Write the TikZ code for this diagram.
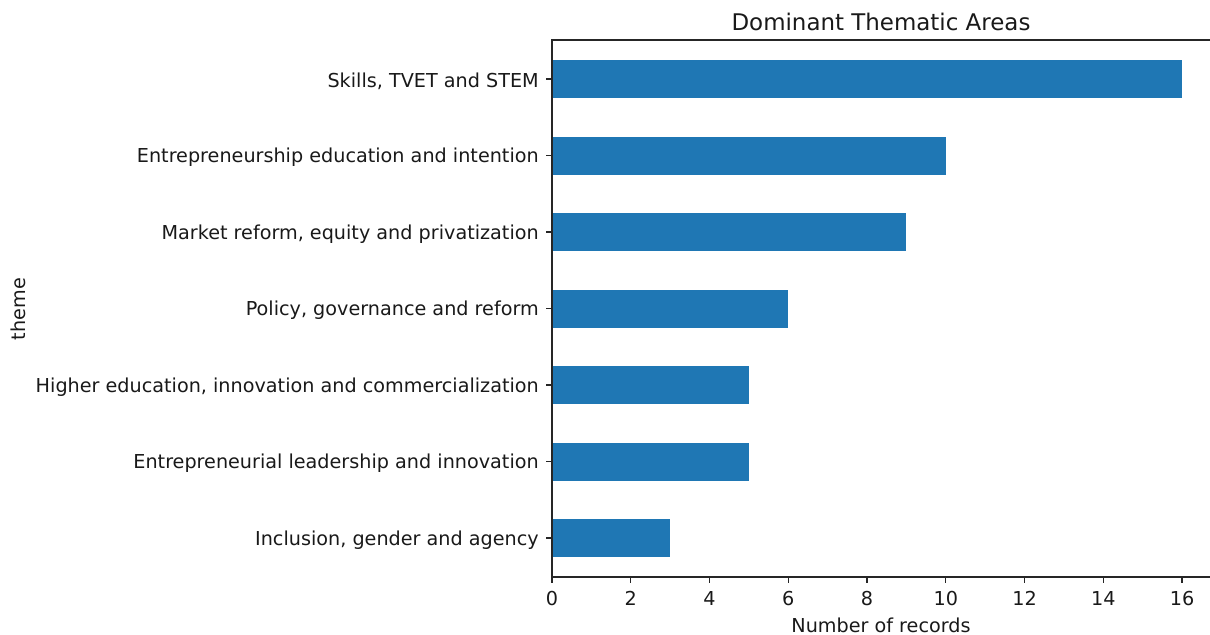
\documentclass[tikz,border=0pt]{standalone}
\usepackage{fontspec}
\setmainfont{DejaVu Sans}
\definecolor{barblue}{HTML}{1F77B4}

\begin{document}
\begin{tikzpicture}[x=0.75pt,y=-0.75pt,
    lab/.style={font=\fontsize{14.4}{17}\selectfont,inner sep=0pt,text=black!90},
    axline/.style={line width=0.9pt,black!85}]
  \useasboundingbox (0,0) rectangle (1210,635);
  \foreach \v/\t [count=\i from 0] in {16/{Skills, TVET and STEM},
      10/{Entrepreneurship education and intention},
      9/{Market reform, equity and privatization},
      6/{Policy, governance and reform},
      5/{Higher education, innovation and commercialization},
      5/{Entrepreneurial leadership and innovation},
      3/{Inclusion, gender and agency}} {
    \fill [barblue] (552,{79+76.5*\i-19}) rectangle ({552+39.375*\v},{79+76.5*\i+19});
    \draw [axline] (546,{79+76.5*\i}) -- (552,{79+76.5*\i});
    \node (ylab\i) at (539,{81+76.5*\i}) [lab,anchor=east] {\t};
  }
  \foreach \k [count=\j from 0] in {0,2,...,16} {
    \draw [axline] ({552+78.75*\j},577) -- ({552+78.75*\j},583);
    \node (xlab\j) at ({552+78.75*\j},591) [lab,anchor=north] {\k};
  }
  \draw [axline] (1212,40) -- (552,40) -- (552,577) -- (1212,577);
  \node (title) at (881,22) [font=\fontsize{17.2}{20}\selectfont,inner sep=0pt,text=black!90] {Dominant Thematic Areas};
  \node (xname) at (881,625) [lab] {Number of records};
  \node (yname) at (18,309) [lab,rotate=90] {theme};
\end{tikzpicture}
\end{document}
